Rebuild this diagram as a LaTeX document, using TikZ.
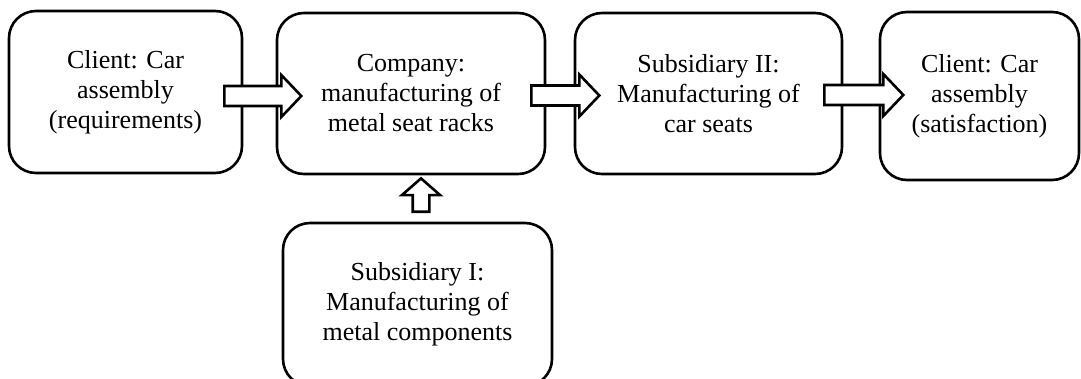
\documentclass[tikz,border=0pt]{standalone}
\usepackage{fontspec}
\setmainfont{Liberation Serif}
\usetikzlibrary{calc}
\tikzset{
    stage/.style={rectangle,draw,rounded corners=27pt,line width=2.6pt,align=center,
        inner sep=0pt,font=\fontsize{26}{30}\selectfont},
    flow/.style={draw,fill=white,line width=2.6pt,line join=miter},
}
\begin{document}
\begin{tikzpicture}[x=1pt,y=-1pt]
		\useasboundingbox (0,0) rectangle (1081,378);
		\clip (0,0) rectangle (1081,378);

		\node[stage,minimum width=233pt,minimum height=162pt] (client) at (125.5,92) {Client: Car\\assembly\\(requirements)};
		\node[stage,minimum width=268pt,minimum height=161pt] (company) at (411,93.5) {Company:\\manufacturing of\\metal seat racks};
		\node[stage,minimum width=267pt,minimum height=161pt] (seats) at (708.5,93.5) {Subsidiary II:\\Manufacturing of\\car seats};
		\node[stage,minimum width=199pt,minimum height=168pt] (done) at (979.5,96) {Client: Car\\assembly\\(satisfaction)};
		\node[stage,minimum width=269pt,minimum height=163pt] (parts) at (417.5,304.5) {Subsidiary I:\\Manufacturing of\\metal components};

		% block arrows
		\draw[flow] ($(client.east)+(-19,4)$) ++(0,-10) -- ++(57,0) -- ++(0,-11) -- ++(20,21)
			-- ++(-20,21) -- ++(0,-11) -- ++(-57,0) -- cycle;
		\draw[flow] ($(company.east)+(-15,2)$) ++(0,-10) -- ++(48,0) -- ++(0,-11) -- ++(20,21)
			-- ++(-20,21) -- ++(0,-11) -- ++(-48,0) -- cycle;
		\draw[flow] ($(seats.east)+(-19,1.5)$) ++(0,-10) -- ++(59,0) -- ++(0,-11) -- ++(20,21)
			-- ++(-20,21) -- ++(0,-11) -- ++(-59,0) -- cycle;
		\draw[flow] ($(parts.north)+(3.5,-10)$) ++(-8.3,0) -- ++(0,-16.6) -- ++(-10.8,0) -- ++(19.1,-16.7)
			-- ++(19.1,16.7) -- ++(-10.8,0) -- ++(0,16.6) -- cycle;
	\end{tikzpicture}
\end{document}
